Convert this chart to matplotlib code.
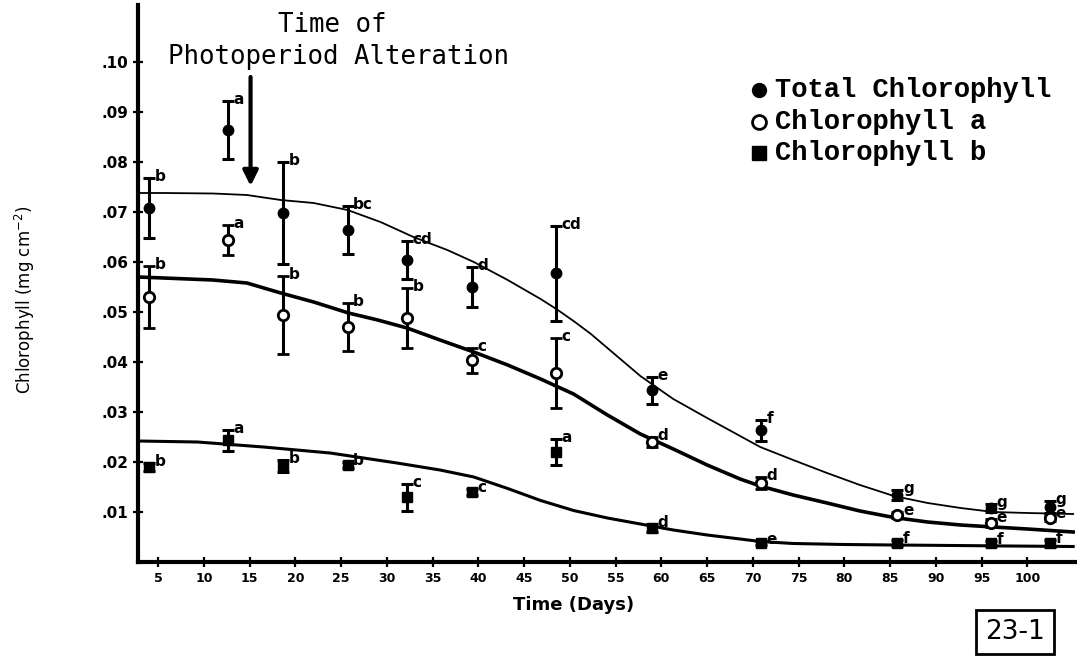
import matplotlib
matplotlib.use("Agg")
import matplotlib.pyplot as plt
import numpy as np

# ---- data ----
days = [4, 12.6, 18.7, 25.7, 32.2, 39.3, 48.5, 59, 70.9, 85.8, 96, 102.5]

total = [0.0708, 0.0864, 0.0698, 0.0664, 0.0604, 0.0550, 0.0578, 0.0344, 0.0264, 0.0134, 0.0108, 0.0110]
total_err = [0.0060, 0.0058, 0.0102, 0.0048, 0.0038, 0.0040, 0.0095, 0.0027, 0.0021, 0.0010, 0.0008, 0.0012]
total_letters = ["b", "a", "b", "bc", "cd", "d", "cd", "e", "f", "g", "g", "g"]

chl_a = [0.0530, 0.0644, 0.0494, 0.0470, 0.0488, 0.0404, 0.0378, 0.0240, 0.0158, 0.0094, 0.0078, 0.0088]
chl_a_err = [0.0062, 0.0030, 0.0078, 0.0048, 0.0060, 0.0025, 0.0070, 0.0010, 0.0012, 0.0006, 0.0008, 0.0006]
chl_a_letters = ["b", "a", "b", "b", "b", "c", "c", "d", "d", "e", "e", "e"]

chl_b = [0.0190, 0.0244, 0.0192, 0.0194, 0.0130, 0.0140, 0.0220, 0.0068, 0.0038, 0.0038, 0.0038, 0.0038]
chl_b_err = [0.0008, 0.0021, 0.0012, 0.0006, 0.0027, 0.0006, 0.0026, 0.0008, 0.0004, 0.0006, 0.0005, 0.0007]
chl_b_letters = ["b", "a", "b", "b", "c", "c", "a", "d", "e", "f", "f", "f"]

# fitted curves
curve_total_x = [2.8, 5.6, 11.0, 14.7, 18.4, 22.0, 25.7, 29.3, 32.9, 36.6, 39.5, 43.2, 46.8, 48.6, 50.4,
                 52.3, 54.1, 57.7, 61.3, 65.0, 70.8, 74.4, 78.1, 81.7, 85.4, 89.1, 92.7, 96.3, 100.0, 105.0]
curve_total_y = [0.0738, 0.0738, 0.0737, 0.0734, 0.0724, 0.0718, 0.0704, 0.0680, 0.0650, 0.0624, 0.0600,
                 0.0564, 0.0526, 0.0505, 0.0482, 0.0456, 0.0428, 0.0372, 0.0326, 0.0288, 0.0230,
                 0.0204, 0.0178, 0.0154, 0.0132, 0.0118, 0.0108, 0.0100, 0.0098, 0.0096]

curve_a_x = [2.8, 5.6, 11.0, 14.7, 18.4, 22.0, 25.8, 29.0, 32.2, 35.8, 39.5, 43.2, 46.8, 50.4, 54.1,
             57.7, 61.3, 65.0, 68.6, 70.8, 74.4, 78.1, 81.7, 85.4, 89.1, 92.7, 96.3, 100.0, 105.0]
curve_a_y = [0.0570, 0.0568, 0.0564, 0.0558, 0.0538, 0.0520, 0.0498, 0.0484, 0.0468, 0.0444, 0.0420,
             0.0394, 0.0366, 0.0336, 0.0294, 0.0256, 0.0226, 0.0194, 0.0166, 0.0152, 0.0134,
             0.0118, 0.0102, 0.0089, 0.0080, 0.0074, 0.0070, 0.0066, 0.0060]

curve_b_x = [2.8, 9.3, 16.5, 23.8, 31.1, 35.8, 39.5, 43.2, 46.8, 50.4, 54.1, 57.7, 61.3, 65.0, 68.6,
             70.8, 74.4, 80.0, 85.4, 92.0, 98.0, 105.0]
curve_b_y = [0.0242, 0.0240, 0.0230, 0.0218, 0.0198, 0.0184, 0.0170, 0.0147, 0.0123, 0.0103, 0.0088,
             0.0076, 0.0064, 0.0054, 0.0046, 0.0041, 0.0037, 0.0035, 0.0034, 0.0033, 0.0032, 0.0031]

x_ticks = [5, 10, 15, 20, 25, 30, 35, 40, 45, 50, 55, 60, 65, 70, 75, 80, 85, 90, 95, 100]
y_ticks = [0.01, 0.02, 0.03, 0.04, 0.05, 0.06, 0.07, 0.08, 0.09, 0.10]
y_tick_labels = [".01", ".02", ".03", ".04", ".05", ".06", ".07", ".08", ".09", ".10"]

legend_labels = ["Total Chlorophyll", "Chlorophyll a", "Chlorophyll b"]
arrow_day = 15.1

# ---- figure ----
fig = plt.figure(figsize=(10.77, 6.56), dpi=100)
ax = fig.add_axes([138 / 1077, 94 / 656, (1075 - 138) / 1077, (562 - 5) / 656])
ax.set_xlim(2.8, 105.2)
ax.set_ylim(0, 0.1114)

ax.plot(curve_total_x, curve_total_y, color="black", lw=1.3, zorder=2)
ax.plot(curve_a_x, curve_a_y, color="black", lw=2.6, zorder=2)
ax.plot(curve_b_x, curve_b_y, color="black", lw=2.2, zorder=2)

eb_kw = dict(ecolor="black", elinewidth=2.2, capsize=4.5, capthick=2.2, ls="none", zorder=3)
ax.errorbar(days, total, yerr=total_err, fmt="o", ms=7.5, mfc="black", mec="black", **eb_kw)
ax.errorbar(days, chl_a, yerr=chl_a_err, fmt="o", ms=7.5, mfc="white", mec="black", mew=2, **eb_kw)
ax.errorbar(days, chl_b, yerr=chl_b_err, fmt="s", ms=7.5, mfc="black", mec="black", **eb_kw)

lab_kw = dict(textcoords="offset points", xytext=(4, 1), ha="left", va="center",
              fontsize=11, fontweight="bold", family="DejaVu Sans")
for series, err, letters in [(total, total_err, total_letters),
                             (chl_a, chl_a_err, chl_a_letters),
                             (chl_b, chl_b_err, chl_b_letters)]:
    for d, v, e, l in zip(days, series, err, letters):
        ax.annotate(l, (d, v + e), **lab_kw)

# arrow for photoperiod alteration
ax.annotate("", xy=(arrow_day, 0.0752), xytext=(arrow_day, 0.0970),
            arrowprops=dict(arrowstyle="-|>,head_width=0.45,head_length=0.9", lw=3, color="black",
                            shrinkA=0, shrinkB=0))
fig.text(332 / 1077, 1 - 25 / 656, "Time of", family="DejaVu Sans Mono", fontsize=18.5,
         ha="center", va="center")
fig.text(339 / 1077, 1 - 57 / 656, "Photoperiod Alteration", family="DejaVu Sans Mono", fontsize=18.5,
         ha="center", va="center")

# legend
leg_y = [90, 122, 153]
markers = [dict(marker="o", mfc="black", mec="black"), dict(marker="o", mfc="white", mec="black", mew=2),
           dict(marker="s", mfc="black", mec="black")]
for yy, lab, mk in zip(leg_y, legend_labels, markers):
    fig.lines.append(plt.Line2D([759 / 1077], [1 - yy / 656], transform=fig.transFigure, ms=10,
                                ls="none", **mk))
    fig.text(775 / 1077, 1 - yy / 656, lab, family="Liberation Mono", fontweight="bold",
             fontsize=19.5, ha="left", va="center")

# axes styling
for s in ["top", "right"]:
    ax.spines[s].set_visible(False)
for s in ["left", "bottom"]:
    ax.spines[s].set_linewidth(3)
ax.set_xticks(x_ticks)
ax.set_xticklabels([str(t) for t in x_ticks], fontsize=9, fontweight="bold")
ax.set_yticks(y_ticks)
ax.set_yticklabels(y_tick_labels, fontsize=11, fontweight="bold")
ax.tick_params(axis="both", direction="inout", length=7, width=1.6)
ax.set_xlabel("Time (Days)", fontsize=13, fontweight="bold")
ax.xaxis.set_label_coords((574 - 138) / 937, -(596 - 562) / 557)
ax.set_ylabel("Chlorophyll (mg cm$^{-2}$)", fontsize=12)
ax.yaxis.set_label_coords((37 - 138) / 937, (562 - 300) / 557)

# box with page label
fig.text(1015 / 1077, 1 - 632 / 656, "23-1", fontsize=19, ha="center", va="center",
         bbox=dict(boxstyle="square,pad=0.35", fc="white", ec="black", lw=2))

fig.savefig("out.png", dpi=100)
